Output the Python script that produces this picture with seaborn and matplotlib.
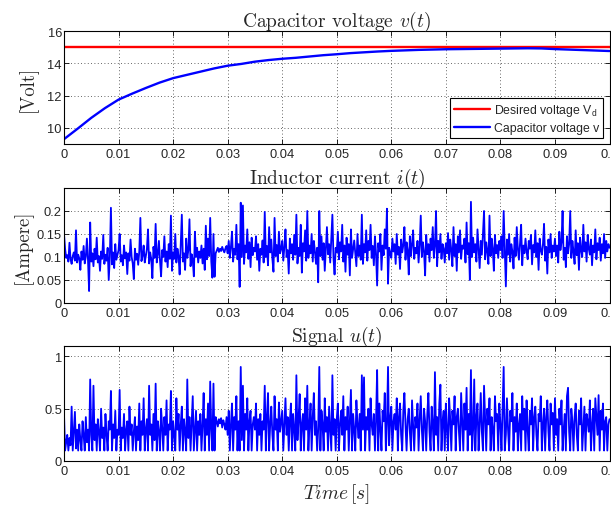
import numpy as np
import pandas as pd
import matplotlib
matplotlib.use("Agg")
import matplotlib.pyplot as plt
import seaborn as sns
from matplotlib.ticker import FixedLocator, FuncFormatter

# ---------------- data ----------------
DT_NOISE = 0.0002           # sampling interval of the noisy signals [s]
DT_V = 0.0025               # sampling interval of the capacitor voltage [s]
VD = 15.0                   # desired voltage

v_values = [9.30, 9.95, 10.62, 11.22, 11.75, 12.12, 12.47, 12.80, 13.08, 13.28,
            13.48, 13.68, 13.85, 13.96, 14.10, 14.20, 14.28, 14.34, 14.42, 14.50,
            14.56, 14.63, 14.68, 14.73, 14.77, 14.80, 14.83, 14.85, 14.87, 14.88,
            14.89, 14.90, 14.91, 14.92, 14.93, 14.92, 14.88, 14.85, 14.82, 14.79,
            14.76]

i_values = [
    0.150, 0.118, 0.098, 0.104, 0.090, 0.131, 0.095, 0.085, 0.102, 0.110, 0.092, 0.158, 0.088, 0.105, 0.097, 0.072, 0.112, 0.094, 0.124, 0.086, 0.101, 0.140, 0.093, 0.026, 0.175,
    0.090, 0.108, 0.080, 0.118, 0.095, 0.142, 0.088, 0.102, 0.070, 0.112, 0.096, 0.148, 0.085, 0.105, 0.092, 0.120, 0.050, 0.098, 0.207, 0.084, 0.110, 0.076, 0.128, 0.094, 0.105,
    0.115, 0.150, 0.090, 0.104, 0.082, 0.125, 0.097, 0.110, 0.063, 0.108, 0.092, 0.138, 0.100, 0.086, 0.052, 0.118, 0.094, 0.107, 0.083, 0.112, 0.185, 0.091, 0.103, 0.125, 0.088,
    0.102, 0.118, 0.160, 0.086, 0.110, 0.095, 0.054, 0.122, 0.098, 0.172, 0.088, 0.106, 0.135, 0.092, 0.058, 0.115, 0.100, 0.145, 0.090, 0.112, 0.078, 0.128, 0.096, 0.190, 0.070,
    0.110, 0.096, 0.150, 0.088, 0.118, 0.102, 0.062, 0.125, 0.192, 0.090, 0.108, 0.072, 0.140, 0.098, 0.115, 0.182, 0.080, 0.106, 0.094, 0.058, 0.155, 0.100, 0.120, 0.088, 0.112,
    0.098, 0.125, 0.086, 0.118, 0.072, 0.168, 0.095, 0.140, 0.102, 0.185, 0.090, 0.055, 0.150, 0.057, 0.108, 0.114, 0.120, 0.111, 0.118, 0.113, 0.122, 0.115, 0.110, 0.119, 0.124,
    0.108, 0.135, 0.098, 0.122, 0.155, 0.090, 0.118, 0.105, 0.170, 0.095, 0.128, 0.035, 0.218, 0.100, 0.212, 0.085, 0.125, 0.110, 0.160, 0.096, 0.132, 0.078, 0.142, 0.104, 0.120,
    0.112, 0.145, 0.094, 0.128, 0.070, 0.118, 0.105, 0.136, 0.088, 0.198, 0.100, 0.124, 0.082, 0.165, 0.110, 0.138, 0.096, 0.068, 0.185, 0.102, 0.126, 0.090, 0.155, 0.108, 0.118,
    0.135, 0.092, 0.122, 0.160, 0.100, 0.115, 0.064, 0.140, 0.108, 0.128, 0.094, 0.148, 0.105, 0.192, 0.086, 0.120, 0.102, 0.170, 0.066, 0.130, 0.112, 0.158, 0.092, 0.200, 0.098,
    0.125, 0.108, 0.150, 0.090, 0.135, 0.112, 0.085, 0.120, 0.045, 0.200, 0.102, 0.145, 0.094, 0.130, 0.070, 0.118, 0.165, 0.106, 0.128, 0.088, 0.140, 0.192, 0.098, 0.062, 0.120,
    0.110, 0.155, 0.095, 0.132, 0.112, 0.170, 0.090, 0.125, 0.068, 0.142, 0.105, 0.128, 0.060, 0.160, 0.098, 0.118, 0.136, 0.108, 0.080, 0.150, 0.102, 0.125, 0.094, 0.192, 0.085,
    0.128, 0.110, 0.158, 0.092, 0.135, 0.115, 0.170, 0.098, 0.124, 0.082, 0.145, 0.108, 0.038, 0.130, 0.112, 0.150, 0.072, 0.125, 0.104, 0.160, 0.118, 0.205, 0.042, 0.120, 0.108,
    0.098, 0.140, 0.112, 0.128, 0.085, 0.150, 0.105, 0.122, 0.074, 0.138, 0.110, 0.126, 0.165, 0.094, 0.132, 0.115, 0.062, 0.145, 0.102, 0.128, 0.158, 0.096, 0.120, 0.108, 0.135,
    0.088, 0.125, 0.190, 0.100, 0.132, 0.112, 0.060, 0.148, 0.106, 0.128, 0.090, 0.140, 0.115, 0.165, 0.098, 0.124, 0.200, 0.080, 0.135, 0.110, 0.150, 0.096, 0.128, 0.118, 0.088,
    0.130, 0.108, 0.152, 0.094, 0.138, 0.115, 0.080, 0.165, 0.102, 0.128, 0.070, 0.145, 0.110, 0.158, 0.096, 0.125, 0.118, 0.140, 0.088, 0.175, 0.106, 0.130, 0.050, 0.220, 0.100,
    0.142, 0.110, 0.128, 0.090, 0.160, 0.118, 0.076, 0.135, 0.105, 0.150, 0.200, 0.095, 0.132, 0.112, 0.085, 0.190, 0.102, 0.140, 0.118, 0.070, 0.148, 0.108, 0.126, 0.098, 0.135,
    0.115, 0.145, 0.098, 0.200, 0.120, 0.036, 0.138, 0.105, 0.150, 0.090, 0.128, 0.112, 0.075, 0.142, 0.102, 0.165, 0.118, 0.094, 0.130, 0.170, 0.082, 0.125, 0.108, 0.140, 0.112,
    0.095, 0.135, 0.118, 0.148, 0.084, 0.126, 0.110, 0.158, 0.100, 0.130, 0.072, 0.140, 0.115, 0.105, 0.128, 0.172, 0.092, 0.122, 0.064, 0.138, 0.110, 0.150, 0.098, 0.125, 0.112,
    0.140, 0.102, 0.125, 0.088, 0.155, 0.115, 0.132, 0.200, 0.094, 0.120, 0.078, 0.145, 0.108, 0.128, 0.200, 0.098, 0.135, 0.112, 0.085, 0.158, 0.104, 0.130, 0.072, 0.142, 0.115,
    0.100, 0.170, 0.112, 0.132, 0.090, 0.148, 0.118, 0.105, 0.138, 0.082, 0.125, 0.110, 0.160, 0.095, 0.130, 0.115, 0.142, 0.092, 0.128, 0.108, 0.150, 0.098, 0.135, 0.112, 0.128,
    0.120]

u_values = [
    0.450, 0.100, 0.180, 0.250, 0.100, 0.220, 0.150, 0.520, 0.100, 0.280, 0.470, 0.120, 0.300, 0.100, 0.350, 0.200, 0.100, 0.380, 0.250, 0.100, 0.420, 0.180, 0.300, 0.100, 0.780,
    0.250, 0.100, 0.720, 0.200, 0.350, 0.100, 0.400, 0.280, 0.100, 0.500, 0.220, 0.320, 0.100, 0.450, 0.250, 0.100, 0.380, 0.300, 0.670, 0.100, 0.350, 0.220, 0.480, 0.100, 0.300,
    0.250, 0.680, 0.100, 0.320, 0.220, 0.450, 0.100, 0.300, 0.380, 0.100, 0.520, 0.250, 0.350, 0.100, 0.280, 0.420, 0.100, 0.330, 0.200, 0.550, 0.100, 0.380, 0.250, 0.600, 0.100,
    0.300, 0.400, 0.100, 0.720, 0.250, 0.350, 0.100, 0.450, 0.200, 0.740, 0.100, 0.380, 0.280, 0.100, 0.500, 0.320, 0.100, 0.420, 0.250, 0.580, 0.100, 0.350, 0.300, 0.670, 0.100,
    0.380, 0.250, 0.100, 0.600, 0.300, 0.450, 0.100, 0.350, 0.520, 0.100, 0.400, 0.280, 0.100, 0.780, 0.220, 0.420, 0.100, 0.350, 0.620, 0.100, 0.300, 0.480, 0.100, 0.380, 0.250,
    0.450, 0.100, 0.350, 0.650, 0.100, 0.400, 0.250, 0.550, 0.100, 0.760, 0.300, 0.100, 0.740, 0.100, 0.420, 0.380, 0.330, 0.400, 0.360, 0.410, 0.320, 0.390, 0.350, 0.300, 0.420,
    0.250, 0.480, 0.100, 0.350, 0.550, 0.100, 0.420, 0.300, 0.620, 0.100, 0.380, 0.100, 0.900, 0.200, 0.720, 0.100, 0.450, 0.300, 0.600, 0.100, 0.380, 0.480, 0.100, 0.350, 0.420,
    0.300, 0.550, 0.100, 0.400, 0.250, 0.450, 0.100, 0.380, 0.300, 0.720, 0.100, 0.420, 0.650, 0.100, 0.350, 0.520, 0.250, 0.100, 0.620, 0.300, 0.400, 0.100, 0.560, 0.280, 0.380,
    0.480, 0.100, 0.350, 0.600, 0.250, 0.420, 0.100, 0.380, 0.550, 0.100, 0.450, 0.300, 0.100, 0.820, 0.200, 0.400, 0.640, 0.100, 0.350, 0.450, 0.100, 0.600, 0.300, 0.720, 0.100,
    0.350, 0.550, 0.100, 0.420, 0.650, 0.250, 0.380, 0.100, 0.300, 0.900, 0.100, 0.480, 0.350, 0.100, 0.600, 0.280, 0.420, 0.100, 0.520, 0.300, 0.100, 0.820, 0.250, 0.400, 0.100,
    0.400, 0.550, 0.100, 0.350, 0.480, 0.250, 0.620, 0.100, 0.420, 0.300, 0.520, 0.100, 0.380, 0.680, 0.100, 0.450, 0.300, 0.100, 0.580, 0.350, 0.220, 0.450, 0.100, 0.820, 0.300,
    0.800, 0.100, 0.420, 0.300, 0.500, 0.100, 0.600, 0.350, 0.250, 0.450, 0.100, 0.380, 0.870, 0.100, 0.550, 0.300, 0.100, 0.480, 0.380, 0.650, 0.100, 0.350, 0.900, 0.150, 0.400,
    0.520, 0.100, 0.380, 0.450, 0.300, 0.600, 0.100, 0.420, 0.550, 0.250, 0.100, 0.480, 0.650, 0.350, 0.100, 0.400, 0.500, 0.280, 0.100, 0.580, 0.350, 0.100, 0.420, 0.320, 0.550,
    0.100, 0.400, 0.620, 0.300, 0.100, 0.500, 0.380, 0.100, 0.450, 0.650, 0.280, 0.100, 0.520, 0.350, 0.100, 0.850, 0.250, 0.420, 0.100, 0.550, 0.730, 0.100, 0.380, 0.480, 0.100,
    0.550, 0.300, 0.100, 0.600, 0.400, 0.100, 0.480, 0.350, 0.620, 0.100, 0.420, 0.500, 0.280, 0.100, 0.650, 0.380, 0.100, 0.550, 0.300, 0.700, 0.100, 0.450, 0.250, 0.870, 0.100,
    0.300, 0.780, 0.100, 0.420, 0.550, 0.100, 0.350, 0.650, 0.280, 0.100, 0.720, 0.400, 0.100, 0.500, 0.350, 0.600, 0.100, 0.420, 0.300, 0.100, 0.620, 0.380, 0.450, 0.100, 0.550,
    0.350, 0.100, 0.500, 0.900, 0.100, 0.250, 0.600, 0.300, 0.100, 0.480, 0.380, 0.650, 0.100, 0.420, 0.280, 0.550, 0.100, 0.350, 0.450, 0.100, 0.620, 0.300, 0.500, 0.100, 0.580,
    0.300, 0.100, 0.480, 0.350, 0.600, 0.100, 0.420, 0.520, 0.250, 0.100, 0.450, 0.380, 0.620, 0.100, 0.350, 0.500, 0.100, 0.420, 0.580, 0.280, 0.100, 0.550, 0.350, 0.460, 0.100,
    0.600, 0.250, 0.400, 0.100, 0.500, 0.350, 0.580, 0.100, 0.300, 0.450, 0.100, 0.620, 0.700, 0.280, 0.100, 0.500, 0.380, 0.100, 0.420, 0.550, 0.250, 0.100, 0.480, 0.350, 0.600,
    0.100, 0.300, 0.520, 0.100, 0.450, 0.380, 0.280, 0.580, 0.100, 0.350, 0.500, 0.100, 0.600, 0.420, 0.250, 0.630, 0.100, 0.480, 0.300, 0.550, 0.100, 0.380, 0.420, 0.100, 0.350,
    0.400]

x_ticks = [0, 0.01, 0.02, 0.03, 0.04, 0.05, 0.06, 0.07, 0.08, 0.09, 0.1]
y1_ticks = [10, 12, 14, 16]
y2_ticks = [0, 0.05, 0.1, 0.15, 0.2]
y3_ticks = [0, 0.5, 1]

titles = [r"Capacitor voltage $v(t)$", r"Inductor current $i(t)$", r"Signal $u(t)$"]

# ---------------- frames ----------------
df_v = pd.DataFrame({"t": np.arange(len(v_values)) * DT_V, "v": v_values})
df_i = pd.DataFrame({"t": np.arange(len(i_values)) * DT_NOISE, "i": i_values})
df_u = pd.DataFrame({"t": np.arange(len(u_values)) * DT_NOISE, "u": u_values})

# ---------------- style ----------------
sns.set_style("ticks")
plt.rcParams["font.family"] = ["Liberation Sans", "DejaVu Sans"]
plt.rcParams["mathtext.fontset"] = "cm"
plt.rcParams["xtick.direction"] = "in"
plt.rcParams["ytick.direction"] = "in"

fig = plt.figure(figsize=(6.11, 5.06), dpi=100)
W, H = 611.0, 506.0
left = 64 / W
width = (609.5 - 64) / W
boxes = [(32, 145), (189, 304), (347, 462)]
axes = [fig.add_axes([left, 1 - b / H, width, (b - t) / H]) for t, b in boxes]

ax1, ax2, ax3 = axes
BLUE = (0, 0, 1)
RED = (1, 0, 0)

ax1.axhline(VD, color=RED, lw=1.7, label=r"Desired voltage V$_\mathregular{d}$")
sns.lineplot(data=df_v, x="t", y="v", ax=ax1, color=BLUE, lw=1.7,
             label="Capacitor voltage v", estimator=None)
sns.lineplot(data=df_i, x="t", y="i", ax=ax2, color=BLUE, lw=1.3, estimator=None)
sns.lineplot(data=df_u, x="t", y="u", ax=ax3, color=BLUE, lw=1.3, estimator=None)

ylims = [(9, 16), (0, 0.25), (0, 1.1)]
yticks = [y1_ticks, y2_ticks, y3_ticks]
fmt = FuncFormatter(lambda v, p: "%g" % v)
for ax, ttl, yl, yt in zip(axes, titles, ylims, yticks):
    ax.set_xlim(0, 0.1)
    ax.set_ylim(*yl)
    ax.xaxis.set_major_locator(FixedLocator(x_ticks))
    ax.yaxis.set_major_locator(FixedLocator(yt))
    ax.xaxis.set_major_formatter(fmt)
    ax.yaxis.set_major_formatter(fmt)
    ax.tick_params(axis="both", which="major", labelsize=9.3, length=3.5, width=0.6,
                   top=True, right=True, color="black")
    ax.tick_params(axis="y", pad=1.5)
    ax.tick_params(axis="x", pad=3)
    ax.grid(True, color="#333333", linestyle=(0, (1, 3)), linewidth=0.6)
    for s in ax.spines.values():
        s.set_visible(True)
        s.set_color("black")
        s.set_linewidth(0.8)
    ax.set_title(ttl, fontfamily="cmr10", fontsize=14, pad=4)
    ax.set_xlabel("")
    ax.set_ylabel("")

ax1.set_ylabel("[Volt]", fontfamily="cmr10", fontsize=13.5, labelpad=7)
ax2.set_ylabel("[Ampere]", fontfamily="cmr10", fontsize=13.5, labelpad=3)
ax3.set_xlabel(r"$Time\,[s]$", fontsize=14, labelpad=3)

leg = ax1.legend(loc="lower right", fontsize=8.8, frameon=True, fancybox=False,
                 edgecolor="black", framealpha=1, borderaxespad=0.5,
                 handlelength=3.0, handletextpad=0.35, borderpad=0.3,
                 labelspacing=0.35)
leg.get_frame().set_linewidth(0.8)

fig.savefig("out.png", dpi=100)
